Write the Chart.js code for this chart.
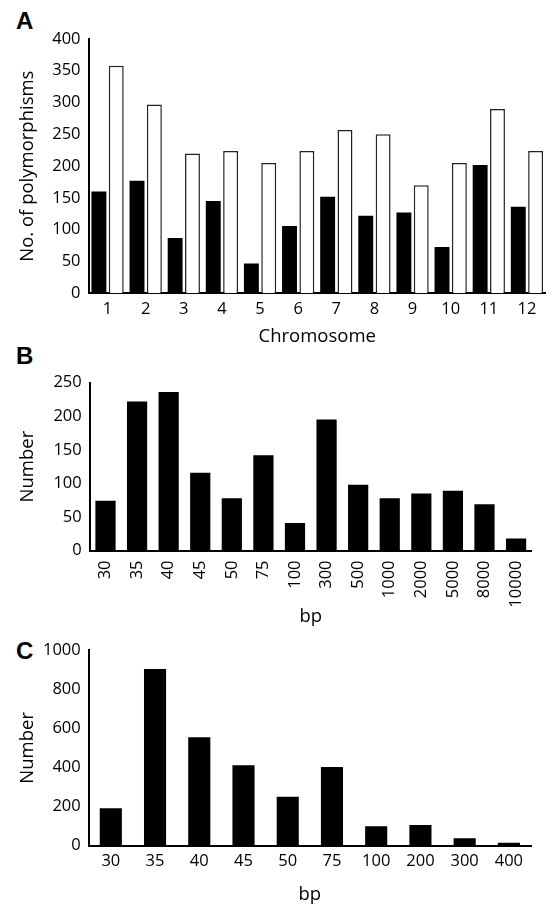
<!DOCTYPE html>
<html>
<head>
<meta charset="utf-8">
<script src="https://cdn.jsdelivr.net/npm/chart.js@4.4.1/dist/chart.umd.min.js"></script>
<style>
  html, body { margin: 0; padding: 0; background: #fff; }
  body { width: 546px; height: 908px; position: relative; overflow: hidden; }
  .panel { position: absolute; left: 0; }
  .tag { position: absolute; font-family: "Liberation Sans", Arial, sans-serif; font-weight: bold; font-size: 24px; line-height: 24px; color: #000; }
</style>
</head>
<body>
<div class="tag" style="left:16px; top:9px;">A</div>
<div class="tag" style="left:16px; top:344px;">B</div>
<div class="tag" style="left:16px; top:639px;">C</div>

<div class="panel" style="top:0px;"><canvas id="chartA" width="546" height="350"></canvas></div>
<div class="panel" style="top:345px;"><canvas id="chartB" width="546" height="285"></canvas></div>
<div class="panel" style="top:630px;"><canvas id="chartC" width="546" height="278"></canvas></div>

<script>
// panel A - polymorphisms per chromosome
const chromosomes = ['1', '2', '3', '4', '5', '6', '7', '8', '9', '10', '11', '12'];
const polyBlack = [160, 177, 87, 145, 47, 106, 152, 122, 127, 73, 202, 136];
const polyWhite = [358, 297, 220, 224, 205, 224, 257, 250, 170, 205, 290, 224];

// panel B
const bpLabelsB = ['30', '35', '40', '45', '50', '75', '100', '300', '500', '1000', '2000', '5000', '8000', '10000'];
const countsB = [74, 222, 236, 116, 78, 142, 41, 195, 98, 78, 85, 89, 69, 18];

// panel C
const bpLabelsC = ['30', '35', '40', '45', '50', '75', '100', '200', '300', '400'];
const countsC = [191, 903, 554, 411, 250, 402, 99, 106, 38, 15];

const FONT = '"Open Sans", "Noto Sans", sans-serif';
Chart.defaults.font.family = FONT;
Chart.defaults.color = '#000';
Chart.defaults.animation = false;

function makeBarChart(id, cfg) {
  const ctx = document.getElementById(id).getContext('2d');
  return new Chart(ctx, {
    type: 'bar',
    data: { labels: cfg.labels, datasets: cfg.datasets },
    options: {
      responsive: false,
      devicePixelRatio: 1,
      layout: { padding: { top: cfg.padTop, right: cfg.padRight, bottom: 0, left: 0 } },
      plugins: { legend: { display: false }, tooltip: { enabled: false } },
      scales: {
        x: {
          grid: { display: false, drawTicks: false },
          border: { display: true, color: '#000', width: 2 },
          ticks: {
            font: { size: 16.5 }, padding: cfg.xTickPad, autoSkip: false,
            minRotation: cfg.rotate || 0, maxRotation: cfg.rotate || 0
          },
          title: { display: true, text: cfg.xTitle, font: { size: 18.5 }, padding: { top: 0, bottom: 2 } },
          afterFit: (s) => { s.height = cfg.xHeight; }
        },
        y: {
          min: 0, max: cfg.yMax,
          grid: { display: false, drawTicks: false },
          border: { display: true, color: '#000', width: 2 },
          ticks: { stepSize: cfg.yStep, font: { size: 16.5 }, padding: 8, callback: (v) => String(v) },
          title: { display: true, text: cfg.yTitle, font: { size: 18.5 }, padding: { top: 17, bottom: 0 } },
          afterFit: (s) => { s.width = cfg.yWidth; }
        }
      }
    }
  });
}

makeBarChart('chartA', {
  labels: chromosomes,
  datasets: [
    { data: polyBlack, backgroundColor: '#000', borderWidth: 0, categoryPercentage: 0.91, barPercentage: 0.86 },
    { data: polyWhite, backgroundColor: '#fff', borderColor: '#222', borderWidth: 1.5, categoryPercentage: 0.91, barPercentage: 0.86 }
  ],
  xTitle: 'Chromosome', yTitle: 'No. of polymorphisms',
  yMax: 400, yStep: 50,
  padTop: 39, padRight: 0, yWidth: 88.5, xHeight: 56.7, xTickPad: 6
});

makeBarChart('chartB', {
  labels: bpLabelsB,
  datasets: [
    { data: countsB, backgroundColor: '#000', borderWidth: 0, categoryPercentage: 1, barPercentage: 0.64 }
  ],
  xTitle: 'bp', yTitle: 'Number',
  yMax: 250, yStep: 50,
  padTop: 37.7, padRight: 3.7, yWidth: 89.7, xHeight: 79.5, xTickPad: 10, rotate: 90
});

makeBarChart('chartC', {
  labels: bpLabelsC,
  datasets: [
    { data: countsC, backgroundColor: '#000', borderWidth: 0, categoryPercentage: 1, barPercentage: 0.5 }
  ],
  xTitle: 'bp', yTitle: 'Number',
  yMax: 1000, yStep: 200,
  padTop: 20, padRight: 15, yWidth: 88.7, xHeight: 62.3, xTickPad: 6
});
</script>
</body>
</html>
